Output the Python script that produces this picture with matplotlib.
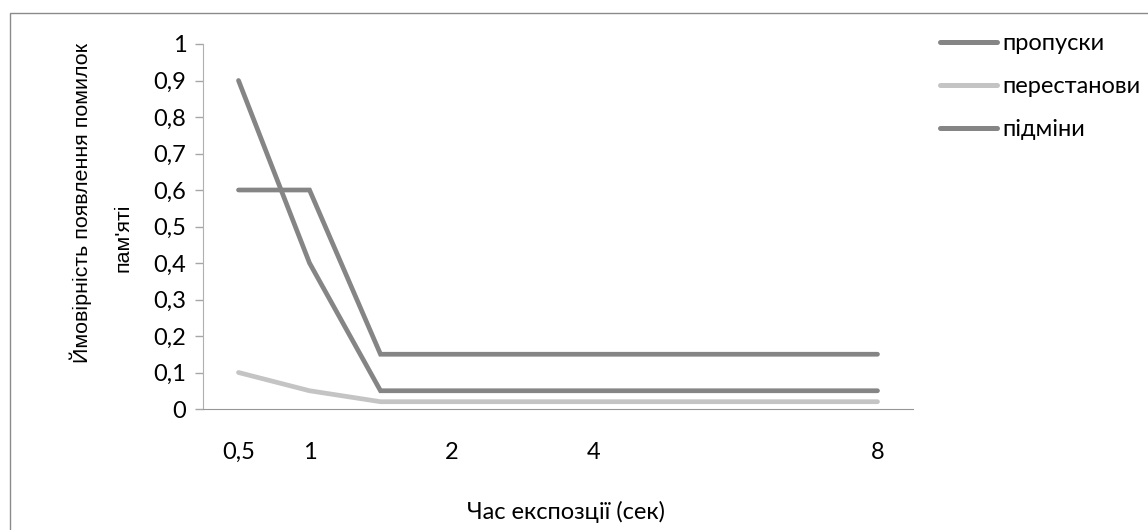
import matplotlib
matplotlib.use("Agg")
import matplotlib.pyplot as plt
from matplotlib.patches import Rectangle

# дані з графіка
categories = ['0,5', '1', '', '2', '', '4', '', '', '', '8']
propusky = [0.9, 0.4, 0.05, 0.05, 0.05, 0.05, 0.05, 0.05, 0.05, 0.05]
perestanovy = [0.1, 0.05, 0.02, 0.02, 0.02, 0.02, 0.02, 0.02, 0.02, 0.02]
pidminy = [0.6, 0.6, 0.15, 0.15, 0.15, 0.15, 0.15, 0.15, 0.15, 0.15]
y_ticks = [0, 0.1, 0.2, 0.3, 0.4, 0.5, 0.6, 0.7, 0.8, 0.9, 1]
y_tick_labels = ['0', '0,1', '0,2', '0,3', '0,4', '0,5', '0,6', '0,7', '0,8', '0,9', '1']

W, H = 1148, 530
FONT = ['Lato', 'DejaVu Sans']
FS = 17

fig = plt.figure(figsize=(W / 100, H / 100), dpi=100)
ax = fig.add_axes([203 / W, 1 - 409 / H, (913 - 203) / W, (409 - 44) / H])

x = list(range(len(categories)))
dark = '#858585'
light = '#c4c4c4'
ax.plot(x, propusky, color=dark, lw=3.4, label='пропуски', solid_capstyle='round', solid_joinstyle='miter')
ax.plot(x, perestanovy, color=light, lw=3.4, label='перестанови', solid_capstyle='round', solid_joinstyle='miter')
ax.plot(x, pidminy, color=dark, lw=3.4, label='підміни', solid_capstyle='round', solid_joinstyle='miter')

ax.set_xlim(-0.5, len(categories) - 0.5)
ax.set_ylim(0, 1)
ax.set_xticks(x)
ax.set_xticklabels(categories, fontsize=FS, family=FONT)
ax.set_yticks(y_ticks)
ax.set_yticklabels(y_tick_labels, fontsize=FS, family=FONT)
ax.tick_params(axis='x', length=0, pad=24)
ax.tick_params(axis='y', length=6, width=1, color='#a6a6a6', pad=6)

for s in ['top', 'right']:
    ax.spines[s].set_visible(False)
ax.spines['left'].set_color('#b0b0b0')
ax.spines['bottom'].set_color('#969696')

fig.text(566 / W, 1 - 512 / H, 'Час експозції (сек)', ha='center', va='center',
         fontsize=FS, family=FONT)
fig.text(81 / W, 1 - 203 / H, 'Ймовірність появлення помилок', rotation=90,
         ha='center', va='center', fontsize=15.4, family=['Liberation Sans', 'DejaVu Sans'])
fig.text(123 / W, 1 - 238 / H, "пам'яті", rotation=90,
         ha='center', va='center', fontsize=15.4, family=['Liberation Sans', 'DejaVu Sans'])

leg = fig.legend(loc='upper left', bbox_to_anchor=(940 / W, 1 - 33 / H), frameon=False,
                 borderaxespad=0, borderpad=0,
                 handlelength=2.4, handletextpad=0.25, labelspacing=0.93,
                 prop={'family': FONT, 'size': FS})
for line in leg.get_lines():
    line.set_linewidth(3.6)
    line.set_solid_capstyle('round')

# рамка області діаграми
fig.add_artist(Rectangle((10 / W, -0.05), 1.1, 1 - 13 / H + 0.05, transform=fig.transFigure,
                         fill=False, edgecolor='#8a8a8a', lw=1))

fig.savefig('out.png', dpi=100)
